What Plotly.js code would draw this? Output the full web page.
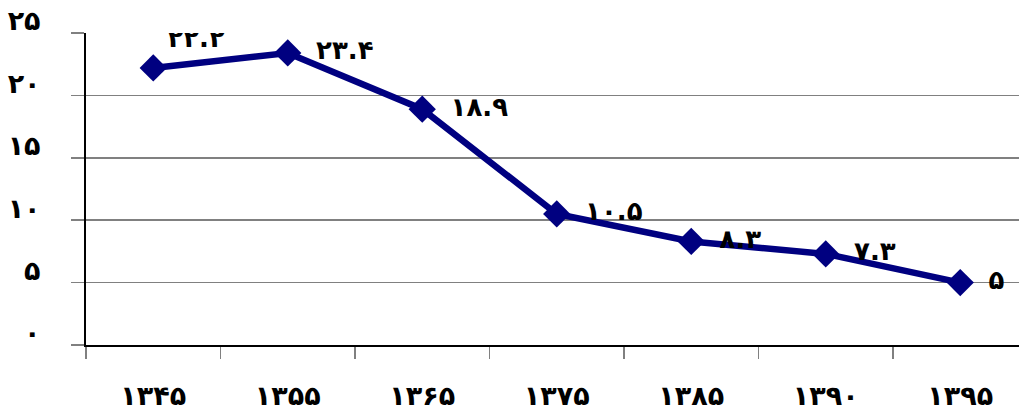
<!DOCTYPE html>
<html>
<head>
<meta charset="utf-8">
<script src="https://cdn.plot.ly/plotly-3.0.1.min.js"></script>
<style>html,body{margin:0;padding:0;background:#fff;}#chart{width:1019px;height:414px;}</style>
</head>
<body>
<div id="chart"></div>
<script>
const years = ["۱۳۴۵", "۱۳۵۵", "۱۳۶۵", "۱۳۷۵", "۱۳۸۵", "۱۳۹۰", "۱۳۹۵"];
const values = [22.2, 23.4, 18.9, 10.5, 8.3, 7.3, 5];
const valueLabels = ["۲۲.۲", "۲۳.۴", "۱۸.۹", "۱۰.۵", "۸.۳", "۷.۳", "۵"];
const labelPositions = ["top right", "middle right", "middle right", "middle right", "middle right", "middle right", "middle right"];
const yTickVals = [0, 5, 10, 15, 20, 25];
const yTickText = ["۰", "۵", "۱۰", "۱۵", "۲۰", "۲۵"];

const fontFam = "DejaVu Sans, sans-serif";
const pad = "\u00A0\u2009";

const trace = {
  type: "scatter",
  mode: "lines+markers+text",
  x: years,
  y: values,
  text: valueLabels.map((t, i) => i === 0 ? t : pad + t),
  textposition: labelPositions,
  textfont: {family: fontFam, size: 26, color: "#000", weight: "bold"},
  line: {color: "#000080", width: 6.5},
  marker: {symbol: "diamond", size: 21, color: "#000080"},
  cliponaxis: true,
  hoverinfo: "skip"
};

const layout = {
  width: 1019,
  height: 414,
  margin: {l: 86, r: 0, t: 33, b: 69, pad: 0},
  paper_bgcolor: "#fff",
  plot_bgcolor: "#fff",
  showlegend: false,
  font: {family: fontFam, color: "#000"},
  xaxis: {
    type: "category",
    range: [-0.5, 6.437],
    tickson: "boundaries",
    ticks: "outside",
    ticklen: 12,
    tickcolor: "#808080",
    tickwidth: 1.5,
    showgrid: false,
    showline: true,
    linecolor: "#000",
    linewidth: 2,
    tickfont: {family: fontFam, size: 27, color: "#000", weight: "bold"},
    ticklabelstandoff: 26,
    fixedrange: true
  },
  yaxis: {
    range: [0, 25],
    tickvals: yTickVals,
    ticktext: yTickText,
    ticks: "outside",
    ticklen: 13,
    tickcolor: "#808080",
    tickwidth: 1.5,
    showgrid: true,
    gridcolor: "#808080",
    gridwidth: 1.5,
    showline: true,
    linecolor: "#000",
    linewidth: 2,
    zeroline: false,
    tickfont: {family: fontFam, size: 27, color: "#000", weight: "bold"},
    ticklabelstandoff: 25,
    ticklabelshift: -12,
    fixedrange: true
  }
};

Plotly.newPlot("chart", [trace], layout, {staticPlot: true, displayModeBar: false});
</script>
</body>
</html>
